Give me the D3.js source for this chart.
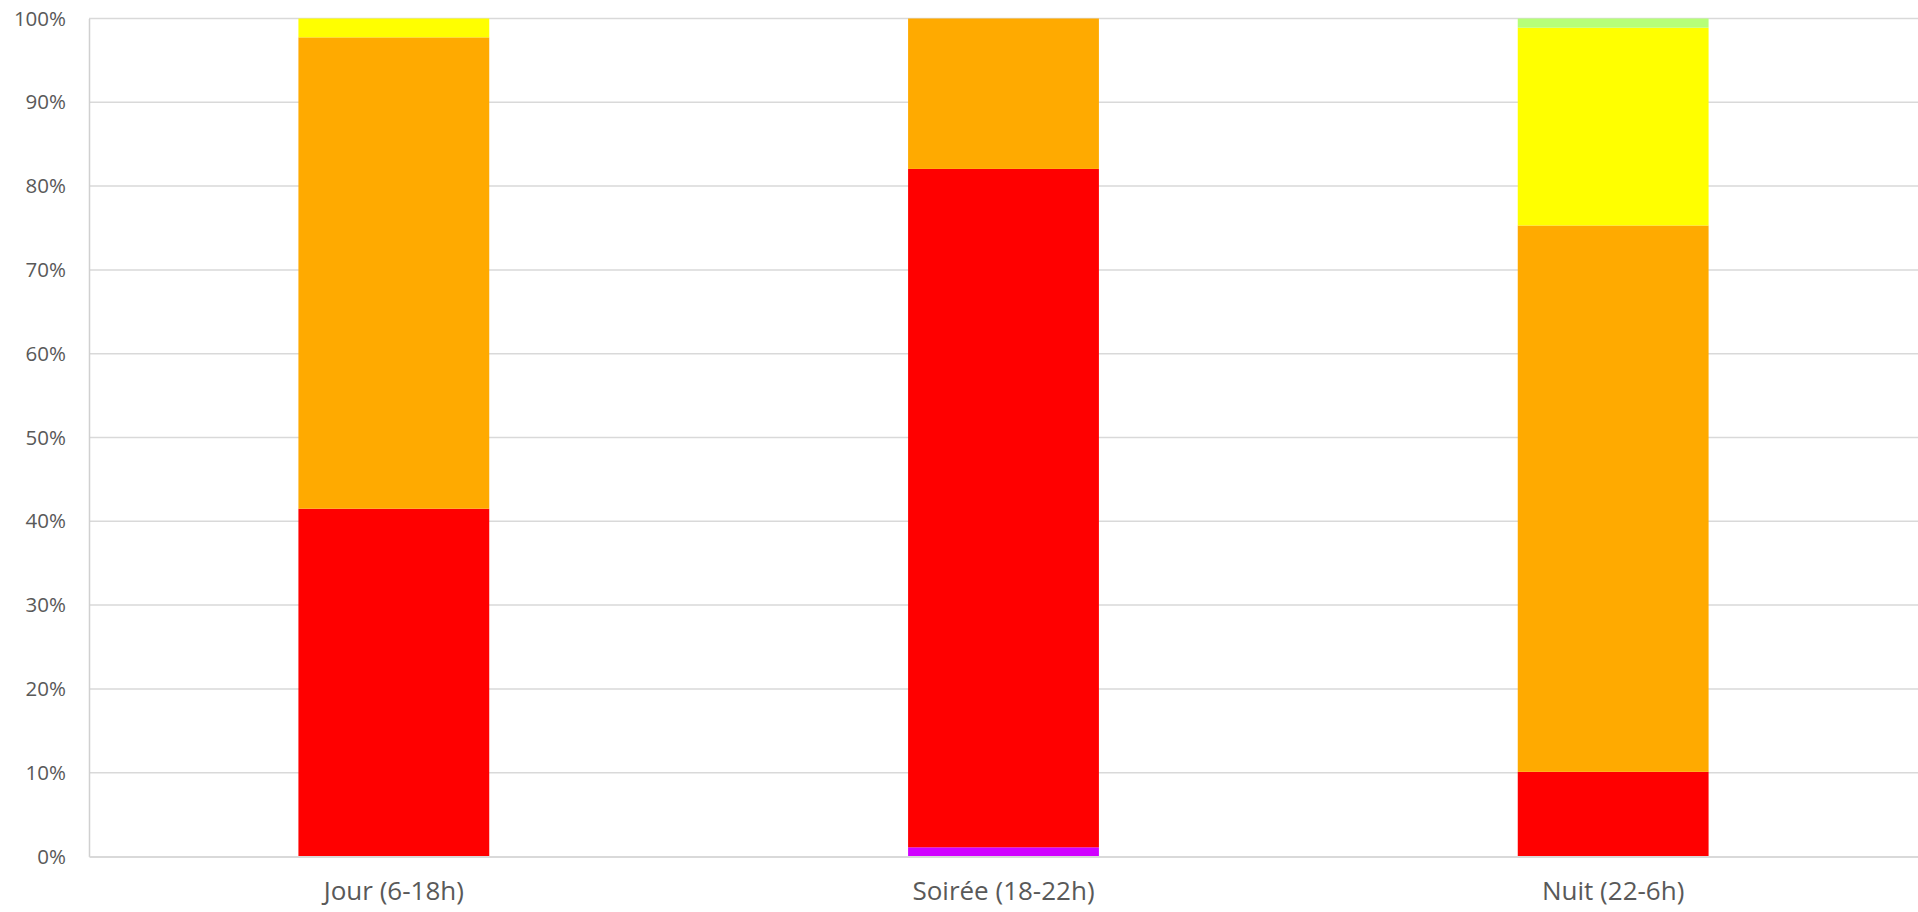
<!DOCTYPE html>
<html>
<head>
<meta charset="utf-8">
<script src="https://cdn.jsdelivr.net/npm/d3@7"></script>
<style>
  html, body { margin: 0; padding: 0; background: #fff; }
  svg { display: block; }
  .tick text { font-family: "Open Sans", Lato, sans-serif; fill: #595959; }
</style>
</head>
<body>
<svg id="chart" width="1918" height="912"></svg>
<script>
// categories on the x axis
var categories = ['Jour (6-18h)', 'Soirée (18-22h)', 'Nuit (22-6h)'];

// stacked series, bottom to top, in percent per category
var seriesNames = ['violet', 'rouge', 'orange', 'jaune', 'vert'];
var violet = [0, 1.1, 0];
var rouge  = [41.5, 80.95, 10.1];
var orange = [56.25, 17.95, 65.2];
var jaune  = [2.25, 0, 23.6];
var vert   = [0, 0, 1.1];

var colors = ['#D000FF', '#FF0000', '#FFAA00', '#FFFF00', '#B6FF78'];
var yTicks = [0, 10, 20, 30, 40, 50, 60, 70, 80, 90, 100];

var svg = d3.select('#chart'),
    margin = { top: 18.5, right: 0, bottom: 55.5, left: 89 },
    width = 1918 - margin.left - margin.right,
    height = 912 - margin.top - margin.bottom;

var rows = categories.map(function (c, i) {
    return { cat: c, violet: violet[i], rouge: rouge[i], orange: orange[i], jaune: jaune[i], vert: vert[i] };
});
var stack = d3.stack().keys(seriesNames)(rows);

var bandPad = 0.687;
var x = d3.scaleBand().domain(categories).range([0, width])
    .paddingInner(bandPad).paddingOuter(bandPad / 2);
var y = d3.scaleLinear().domain([0, 100]).range([height, 0]);

var g = svg.append('g').attr('transform', 'translate(' + margin.left + ',' + margin.top + ')');

// horizontal grid
g.append('g')
    .selectAll('line')
    .data(yTicks.filter(function (d) { return d > 0; }))
    .enter().append('line')
    .attr('x1', 0).attr('x2', width)
    .attr('y1', function (d) { return y(d); })
    .attr('y2', function (d) { return y(d); })
    .attr('stroke', '#D9D9D9').attr('stroke-width', 1.5);

// bars
g.selectAll('g.layer')
    .data(stack)
    .enter().append('g')
    .attr('class', 'layer')
    .attr('fill', function (d, i) { return colors[i]; })
    .selectAll('rect')
    .data(function (d) { return d; })
    .enter().append('rect')
    .attr('x', function (d) { return x(d.data.cat); })
    .attr('width', x.bandwidth())
    .attr('y', function (d) { return y(d[1]); })
    .attr('height', function (d) { return y(d[0]) - y(d[1]); });

// y axis
var yAxis = g.append('g')
    .call(d3.axisLeft(y).tickValues(yTicks).tickSize(0).tickPadding(23)
        .tickFormat(function (d) { return d + '%'; }));
yAxis.select('.domain').attr('stroke', '#D0D0D0').attr('stroke-width', 1.5);
yAxis.selectAll('.tick text').style('font-size', '20.5px');

// x axis
var xAxis = g.append('g')
    .attr('transform', 'translate(0,' + height + ')')
    .call(d3.axisBottom(x).tickSize(0).tickPadding(25));
xAxis.select('.domain').attr('stroke', '#D9D9D9').attr('stroke-width', 2);
xAxis.selectAll('.tick text').style('font-size', '26px');
</script>
</body>
</html>
